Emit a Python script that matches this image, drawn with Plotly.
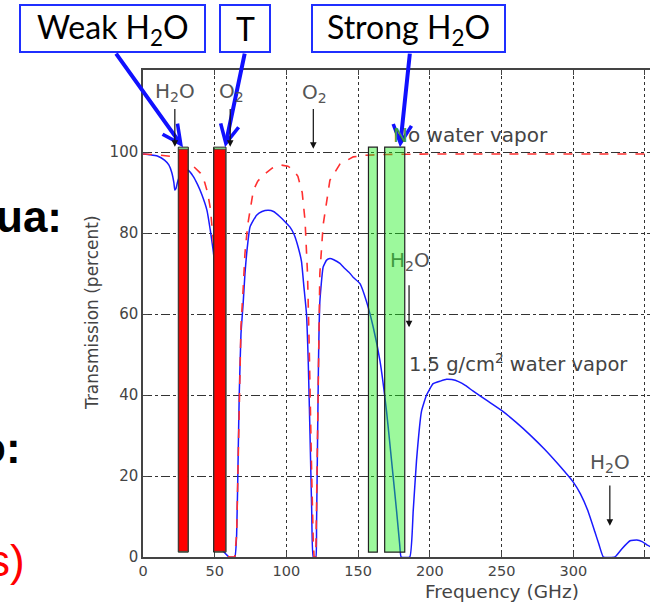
import plotly.graph_objects as go

# ---------------- data ----------------
freq_dry = [0, 10, 20, 25, 30, 35, 40, 43, 45, 47, 49, 51, 53, 55, 60, 64, 65.3, 66.4, 67.1, 68.3,
            69.9, 71.1, 73, 77, 80, 84, 90, 96, 101, 105, 108, 111, 113, 114.7, 115.8, 116.5, 117.6,
            118.7, 119.3, 120.5, 121.4, 122.1, 123.3, 125.6, 130.3, 137.3, 146.6, 155, 170, 200,
            250, 300, 354]
trans_dry = [99.5, 99.3, 98.9, 98.5, 97.8, 96.5, 94.8, 92.5, 90, 86, 78, 60, 30, 2, 0, 0, 5.7, 26,
             40, 57, 66.6, 75, 82, 90.6, 92.8, 94.3, 96, 96.8, 96.5, 95.5, 94, 90, 83, 70, 53.5, 37,
             20.5, 4, 0, 0, 20, 45, 70, 82, 93, 97, 98.8, 99.2, 99.4, 99.5, 99.5, 99.5, 99.5]

freq_wet = [0, 5, 10, 15, 18, 20, 21.5, 22.2, 23, 24, 26, 28, 31.5, 35, 38, 41, 44.6, 47, 48.8, 50,
            52, 54, 55, 60, 64, 65.3, 66.4, 67.1, 68.3, 69.9, 71.1, 72.3, 74.6, 79.2, 83, 87.4, 91,
            95.5, 99, 102.4, 105.5, 108.2, 110.5, 112.2, 114, 115.2, 116.4, 117.6, 118.7, 120.5,
            121, 121.7, 122.4, 123.3, 125.6, 128, 130.3, 133, 137.3, 140, 144.4, 146.7, 151.3,
            155.9, 160.5, 165.2, 169.8, 173.3, 176.8, 179, 180, 186, 188.4, 190.7, 194.2, 197.7,
            202.3, 207, 211.6, 215.3, 220, 225, 230, 240, 250, 260, 270, 280, 290, 300, 305, 310,
            315, 318, 321, 329, 333.8, 339.6, 344.3, 348, 351.3, 354]
trans_wet = [99.5, 99.3, 99, 98, 96.8, 95, 92.5, 90.6, 91, 92.5, 94.5, 95.5, 95.5, 94, 92, 89.5,
             85.6, 80.5, 76, 72, 55, 20, 2, 0, 0, 5.7, 26, 40, 55, 63, 70, 75, 81.5, 84.4, 85.3,
             85.6, 85.3, 84, 82.8, 81.5, 79.5, 76.5, 73, 66.7, 60, 48.5, 31, 12, 0, 0, 8, 28.7, 49,
             63, 71.6, 73.3, 73.7, 73.4, 72.5, 71.5, 70, 69, 67.5, 63, 56.8, 48.5, 36, 23.8, 11.4,
             3, 0, 0, 11.4, 23.8, 36, 40, 42.8, 43.4, 43.9, 43.8, 43.3, 42.3, 41, 38.6, 36.2, 33.3,
             30.1, 26.6, 22.7, 18.5, 15.6, 11.6, 6.3, 3.0, 0, 0, 2, 4, 4.2, 3.8, 3, 2.5]

# channel bands (GHz)
red_lo = [24.6, 49.2]
red_hi = [31.6, 57.9]
green_lo = [157.2, 168.5]
green_hi = [163.4, 182.5]
band_bottom = 1.2
band_top = 101.2

# absorption-line markers
line_freq = [22.2, 60.8, 118.75, 185.5, 325.5]
line_label = ["H<sub>2</sub>O", "O<sub>2</sub>", "O<sub>2</sub>",
              "<span style='color:#3f9a3f'>H</span><sub>2</sub>O", "H<sub>2</sub>O"]
line_label_x = [22.2, 61.8, 119.5, 170.8, 325.5]
line_label_anchor = ["center", "center", "center", "left", "center"]
line_label_y = [114.9, 114.9, 114.6, 73.0, 23.2]
arrow_from = [111, 111, 111, 67.5, 18]
arrow_to = [101.3, 101.3, 100.8, 56.7, 7.7]

x_ticks = [0, 50, 100, 150, 200, 250, 300, 350]
y_ticks = [0, 20, 40, 60, 80, 100]

# ---------------- layout helpers ----------------
W, H = 650, 602
L, R, T, B = 143, 650, 70, 557
X_MAX = 353.5
FONT = "DejaVu Sans"


def px(x):
    return (x - L) / (R - L)


def py(y):
    return (B - y) / (B - T)


fig = go.Figure()
fig.add_trace(go.Scatter(x=freq_wet, y=trans_wet, mode="lines", line_shape="spline",
                         line=dict(color="#1a1aff", width=1.5, smoothing=0.4), hoverinfo="skip"))
fig.add_trace(go.Scatter(x=freq_dry, y=trans_dry, mode="lines",
                         line=dict(color="#ff3030", width=1.6, dash="dash"), hoverinfo="skip"))

shapes = []
for lo, hi in zip(red_lo, red_hi):
    shapes.append(dict(type="rect", xref="x", yref="y", x0=lo, x1=hi, y0=band_bottom, y1=band_top,
                       fillcolor="rgba(20,240,20,0.45)", line=dict(color="#222", width=1)))
    shapes.append(dict(type="rect", xref="x", yref="y", x0=lo + 0.3, x1=hi - 0.3,
                       y0=band_bottom + 0.2, y1=band_top - 0.5,
                       fillcolor="#ff0000", line=dict(color="#333", width=0.8)))
for lo, hi in zip(green_lo, green_hi):
    shapes.append(dict(type="rect", xref="x", yref="y", x0=lo, x1=hi, y0=band_bottom, y1=band_top,
                       fillcolor="rgba(20,240,20,0.42)", line=dict(color="#222", width=1.2)))

boxes = [("Weak H<sub>2</sub>O", 20, 205), ("T", 220, 270), ("Strong H<sub>2</sub>O", 312, 505)]
annotations = []
for txt, x0, x1 in boxes:
    shapes.append(dict(type="rect", xref="paper", yref="paper", x0=px(x0), x1=px(x1),
                       y0=py(52), y1=py(5), fillcolor="white", line=dict(color="#1f2fff", width=2)))
    annotations.append(dict(xref="paper", yref="paper", x=px((x0 + x1) / 2), y=py(29),
                            text=txt, showarrow=False, xanchor="center", yanchor="middle",
                            font=dict(family="Lato", size=32, color="black")))

blue_tip_x = [27.9, 57.2, 179.2]
blue_tail_px = [115, 245, 410]
for tx, tail in zip(blue_tip_x, blue_tail_px):
    tip_px = L + tx * (R - L) / X_MAX
    annotations.append(dict(xref="x", yref="y", x=tx, y=band_top, ax=tail - tip_px, ay=52 - 147,
                            axref="pixel", ayref="pixel", text="", showarrow=True,
                            arrowhead=5, arrowsize=0.9, arrowwidth=4, arrowcolor="#1010ff",
                            standoff=0))

for f, lab, lx, anc, ly, a0, a1 in zip(line_freq, line_label, line_label_x, line_label_anchor,
                                       line_label_y, arrow_from, arrow_to):
    annotations.append(dict(xref="x", yref="y", x=lx, y=ly, text=lab, showarrow=False,
                            xanchor=anc, yanchor="middle",
                            font=dict(family=FONT, size=20, color="#555")))
    annotations.append(dict(xref="x", yref="y", x=f, y=a1, ax=f, ay=a0, axref="x", ayref="y",
                            text="", showarrow=True, arrowhead=2, arrowsize=1.1, arrowwidth=1.2,
                            arrowcolor="#111", standoff=0))

annotations.append(dict(xref="x", yref="y", x=283.5, y=104.2,
                        text="<span style='color:#3f9a3f'>N</span>o water vapor", showarrow=False,
                        xanchor="right", yanchor="middle",
                        font=dict(family=FONT, size=20, color="#444")))
annotations.append(dict(xref="x", yref="y", x=184, y=48.0, text="1.5 g/cm<sup>2</sup> water vapor",
                        showarrow=False, xanchor="left", yanchor="middle",
                        font=dict(family=FONT, size=19.5, color="#444")))

annotations.append(dict(xref="paper", yref="paper", x=px(502), y=py(591.5), text="Frequency (GHz)",
                        showarrow=False, xanchor="center", yanchor="middle",
                        font=dict(family=FONT, size=18.5, color="#444")))
annotations.append(dict(xref="paper", yref="paper", x=px(92), y=py(313),
                        text="Transmission (percent)", textangle=-90, showarrow=False,
                        xanchor="center", yanchor="middle",
                        font=dict(family=FONT, size=17, color="#444")))

annotations.append(dict(xref="paper", yref="paper", x=px(64), y=py(216), text="<b>ua:</b>",
                        showarrow=False, xanchor="right", yanchor="middle",
                        font=dict(family="Liberation Sans", size=44, color="black")))
annotations.append(dict(xref="paper", yref="paper", x=px(23), y=py(447), text="<b>o:</b>",
                        showarrow=False, xanchor="right", yanchor="middle",
                        font=dict(family="Liberation Sans", size=44, color="black")))
annotations.append(dict(xref="paper", yref="paper", x=px(27), y=py(560), text="s)",
                        showarrow=False, xanchor="right", yanchor="middle",
                        font=dict(family="Liberation Sans", size=44, color="#ff0000")))

fig.update_layout(
    width=W, height=H, margin=dict(l=L, r=W - R, t=T, b=H - B, autoexpand=False),
    paper_bgcolor="white", plot_bgcolor="white", showlegend=False,
    shapes=shapes, annotations=annotations,
    xaxis=dict(range=[0, X_MAX], tickvals=x_ticks, showgrid=True, gridcolor="#333",
               griddash="dot", gridwidth=1, showline=True, linecolor="#444", linewidth=1.5,
               mirror="ticks", ticks="inside", ticklen=5, tickcolor="#444", zeroline=False,
               tickfont=dict(family=FONT, size=14.5, color="#444"), automargin=False),
    yaxis=dict(range=[0, 120.25], tickvals=y_ticks, showgrid=True, gridcolor="#333",
               griddash="dashdot", gridwidth=1, showline=True, linecolor="#444", linewidth=1.5,
               ticks="inside", ticklen=5, tickcolor="#444", zeroline=False,
               tickfont=dict(family=FONT, size=15, color="#444"), automargin=False),
)

fig.write_html("out.html")
